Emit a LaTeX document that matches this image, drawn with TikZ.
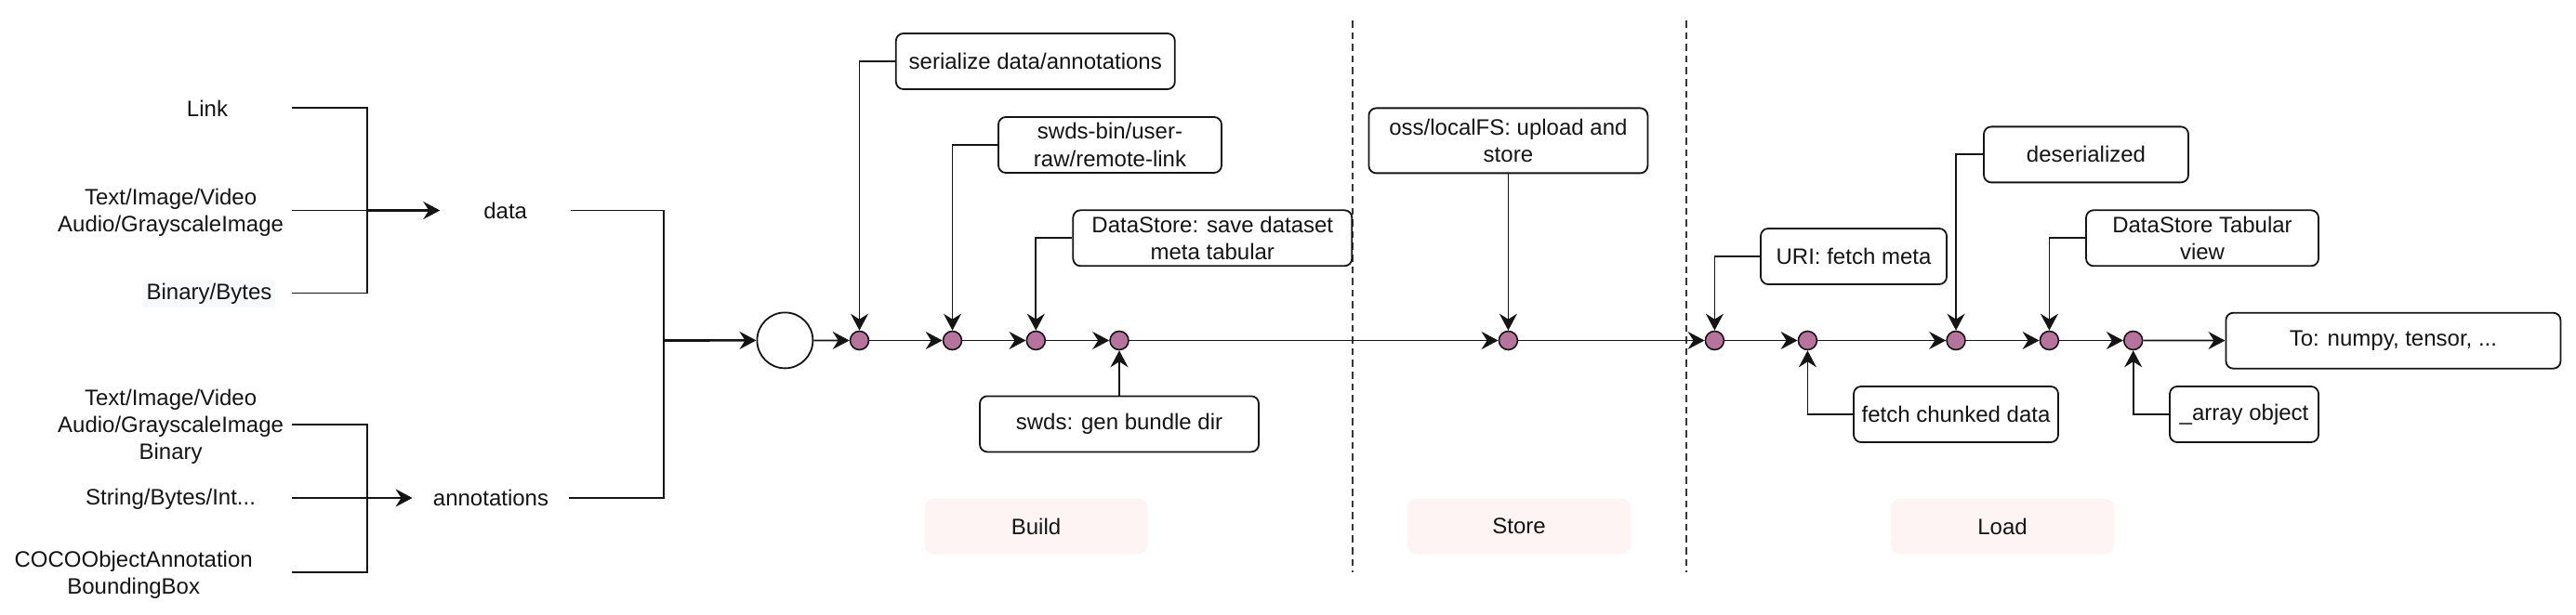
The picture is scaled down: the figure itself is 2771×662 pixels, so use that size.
\documentclass[tikz,border=0pt]{standalone}
\usepackage{fontspec}
\setmainfont{Liberation Sans}
\usetikzlibrary{arrows.meta,calc}
\definecolor{dotfill}{HTML}{B5739D}
\definecolor{pinkbg}{HTML}{FFF4F4}
\definecolor{binbg}{HTML}{F8F9FA}
\definecolor{ink}{HTML}{141414}
\begin{document}
\begin{tikzpicture}[x=0.5pt,y=-0.5pt,
  font=\fontsize{12}{14.6}\selectfont,
  lbl/.style={align=center, inner sep=0pt, text=ink},
  box/.style={draw=ink, line width=0.9pt, rounded corners=4pt, align=center, fill=white, inner sep=2pt, text=ink},
  phase/.style={fill=pinkbg, rounded corners=5pt, minimum width=120pt, minimum height=30pt, text=ink},
  dot/.style={circle, draw=ink, fill=dotfill, line width=0.8pt, minimum size=10pt, inner sep=0pt},
  conn/.style={draw=ink, line width=0.9pt},
  arr/.style={conn, -{Stealth[length=9pt,width=9.5pt,inset=3pt]}},
  thickarr/.style={arr, line width=1.3pt},
  sepline/.style={draw=ink!85, line width=0.9pt, dash pattern=on 3.8pt off 2.5pt}]
\useasboundingbox (0,0) rectangle (2771,662);

% phase labels
\node[phase] (build) at (1114.5,566.5) {Build};
\node[phase] (store) at (1634,566.5) {Store};
\node[phase] (load) at (2154,566.5) {Load};

% separators
\draw[sepline] (1454.6,22) -- (1454.6,616.4);
\draw[sepline] (1814.3,22) -- (1814.3,616.4);

% left texts
\node[lbl] (link) at (223,117) {Link};
\node[lbl] (tiv1) at (183.6,229) {Text/Image/Video\\Audio/GrayscaleImage};
\node[lbl, fill=binbg, inner sep=2pt] (bin) at (225,316) {Binary/Bytes};
\node[lbl, minimum width=70pt] (data) at (543.7,226.5) {data};
\node[lbl] (tiv2) at (183.6,459) {Text/Image/Video\\Audio/GrayscaleImage\\Binary};
\node[lbl] (str) at (183.6,537) {String/Bytes/Int...};
\node[lbl] (coco) at (143.7,619) {COCOObjectAnnotation\\BoundingBox};
\node[lbl, minimum width=84pt] (ann) at (528,536) {annotations};

\coordinate (s1) at (314,116);
\coordinate (s2) at (314,226.5);
\coordinate (s3) at (314,315.6);
\coordinate (jd) at (394.6,226.5);
\coordinate (t1) at (314,456.6);
\coordinate (t2) at (314,536);
\coordinate (t3) at (314,615.6);
\coordinate (ja) at (394.6,536);
\coordinate (jm) at (713.8,366.5);

% circle and dots
\node[circle, draw=ink, line width=0.9pt, minimum size=30pt, inner sep=0pt, fill=white] (circ) at (844.4,366.4) {};
\node[dot] (d1) at (924.5,366.5) {};
\node[dot] (d2) at (1024.5,366.5) {};
\node[dot] (d3) at (1114.3,366.5) {};
\node[dot] (d4) at (1204,366.5) {};
\node[dot] (ds) at (1622.4,366.5) {};
\node[dot] (l1) at (1844.4,366.5) {};
\node[dot] (l2) at (1944.4,366.5) {};
\node[dot] (l3) at (2104,366.5) {};
\node[dot] (l4) at (2204.4,366.5) {};
\node[dot] (l5) at (2294.7,366.5) {};

% boxes
\node[box, minimum width=150pt, minimum height=30pt] (ser) at (1113.8,66) {serialize data/annotations};
\node[box, minimum width=120pt, minimum height=30pt] (swds) at (1194,156) {swds-bin/user-\\raw/remote-link};
\node[box, minimum width=150pt, minimum height=30pt] (dsave) at (1304.3,256.3) {DataStore: save dataset\\meta tabular};
\node[box, minimum width=150pt, minimum height=30pt] (gen) at (1204,456.4) {swds: gen bundle dir};
\node[box, minimum width=150pt, minimum height=35pt] (oss) at (1622.4,151.4) {oss/localFS: upload and\\store};
\node[box, minimum width=100pt, minimum height=30pt] (uri) at (1994,276) {URI: fetch meta};
\node[box, minimum width=110pt, minimum height=30pt] (fetch) at (2104,446) {fetch chunked data};
\node[box, minimum width=110pt, minimum height=30pt] (deser) at (2244,166.4) {deserialized};
\node[box, minimum width=125pt, minimum height=30pt] (dtab) at (2369,256.3) {DataStore Tabular\\view};
\node[box, minimum width=80pt, minimum height=30pt] (arrobj) at (2414,446) {\_array object};
\node[box, minimum width=180pt, minimum height=30pt] (tonp) at (2574.4,366.7) {To: numpy, tensor, ...};

% left brackets
\draw[conn] (s1) -- (s1 -| jd) -- (s3 -| jd) -- (s3);
\draw[conn] (s2) -- (jd);
\draw[thickarr] (jd) -- (data.west);
\draw[conn] (t1) -- (t1 -| ja) -- (t3 -| ja) -- (t3);
\draw[conn] (t2) -- (ja);
\draw[thickarr] (ja) -- (ann.west);
\draw[conn] (data.east) -- (data.east -| jm) -- (ann.east -| jm) -- (ann.east);
\draw[thickarr] (jm) -- (circ.west);

% main line
\draw[arr] (circ) -- (d1);
\draw[arr] (d1) -- (d2);
\draw[arr] (d2) -- (d3);
\draw[arr] (d3) -- (d4);
\draw[arr] (d4) -- (ds);
\draw[arr] (ds) -- (l1);
\draw[arr] (l1) -- (l2);
\draw[arr] (l2) -- (l3);
\draw[arr] (l3) -- (l4);
\draw[arr] (l4) -- (l5);
\draw[arr] (l5) -- (tonp);

% side inputs
\draw[arr] (ser.west) -| (d1.north);
\draw[arr] (swds.west) -| (d2.north);
\draw[arr] (dsave.west) -| (d3.north);
\draw[arr] (gen.north) -- (d4.south);
\draw[arr] (oss.south) -- (ds.north);
\draw[arr] (uri.west) -| (l1.north);
\draw[arr] (fetch.west) -| (l2.south);
\draw[arr] (deser.west) -| (l3.north);
\draw[arr] (dtab.west) -| (l4.north);
\draw[arr] (arrobj.west) -| (l5.south);
\end{tikzpicture}
\end{document}
